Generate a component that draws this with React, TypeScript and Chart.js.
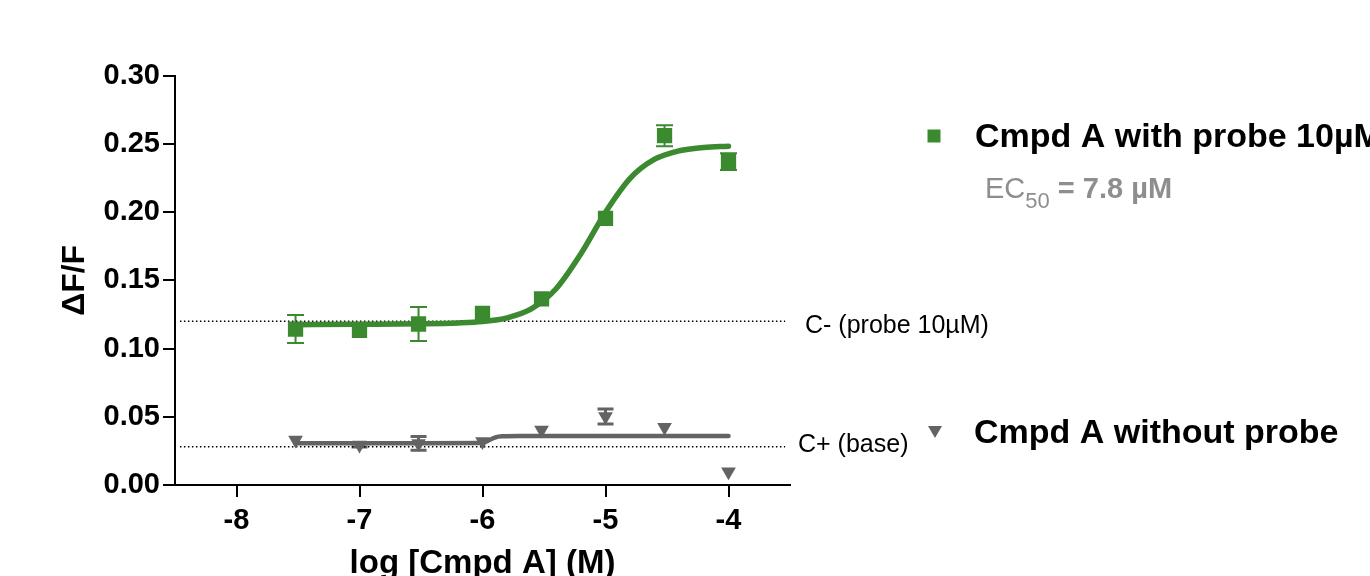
import React, { useEffect, useRef } from 'react';
import { Chart, registerables } from 'chart.js';

Chart.register(...registerables);

// ---- data ----
const logConc = [-7.52, -7, -6.52, -6, -5.52, -5, -4.52, -4];
const withProbe = [0.1143, 0.1133, 0.118, 0.1258, 0.1364, 0.1955, 0.256, 0.237];
const withProbeErr = [0.0103, 0, 0.0125, 0, 0, 0, 0.0077, 0.0062];
const withoutProbe = [0.033, 0.0293, 0.0305, 0.0318, 0.0403, 0.0502, 0.0423, 0.0098];
const withoutProbeErr = [0, 0.0015, 0.005, 0, 0, 0.0055, 0, 0];

// fitted curves
const fitWithX = [-7.52, -7.0, -6.5, -6.2, -6.0, -5.8, -5.6, -5.4, -5.2, -5.0, -4.8, -4.6, -4.4, -4.2, -4.0];
const fitWithY = [0.1175, 0.1178, 0.1182, 0.1188, 0.1198, 0.1225, 0.1292, 0.144, 0.1695, 0.2, 0.2248, 0.2388, 0.245, 0.2474, 0.2483];
const fitWithoutX = [-7.52, -6.5, -6.02, -5.96, -5.9, -5.84, -5.7, -5.0, -4.0];
const fitWithoutY = [0.0306, 0.0306, 0.0307, 0.0322, 0.0348, 0.0357, 0.0359, 0.0359, 0.0359];

// control reference levels
const controlNames = ['C- (probe 10\u00b5M)', 'C+ (base)'];
const controlLevels = [0.12, 0.028];
const controlXRange = [-8.46, -3.54];

const xTicks = [-8, -7, -6, -5, -4];
const yTicks = [0, 0.05, 0.1, 0.15, 0.2, 0.25, 0.3];
const seriesNames = ['Cmpd A with probe 10\u00b5M', 'Cmpd A without probe'];
const ec50Text = '7.8 \u00b5M';

const GREEN = '#3b8a2f';
const GRAY = '#636363';
const LIGHT_GRAY = '#8e8e8e';
const FONT = "'Liberation Sans', Arial, Helvetica, sans-serif";

const errorBarPlugin = {
  id: 'errorBars',
  beforeDatasetsDraw(chart: any) {
    const { ctx, scales } = chart;
    const x = scales.x;
    const y = scales.y;
    const draw = (ys: number[], errs: number[], color: string, lw: number, cap: number) => {
      ctx.save();
      ctx.strokeStyle = color;
      ctx.lineWidth = lw;
      logConc.forEach((lx, i) => {
        const e = errs[i];
        if (!e) return;
        const px = x.getPixelForValue(lx);
        const top = y.getPixelForValue(ys[i] + e);
        const bot = y.getPixelForValue(ys[i] - e);
        ctx.beginPath();
        ctx.moveTo(px, top);
        ctx.lineTo(px, bot);
        ctx.moveTo(px - cap / 2, top);
        ctx.lineTo(px + cap / 2, top);
        ctx.moveTo(px - cap / 2, bot);
        ctx.lineTo(px + cap / 2, bot);
        ctx.stroke();
      });
      ctx.restore();
    };
    draw(withProbe, withProbeErr, GREEN, 2, 17);
    draw(withoutProbe, withoutProbeErr, GRAY, 3, 16);
  },
};

const annotationPlugin = {
  id: 'annotations',
  afterDraw(chart: any) {
    const { ctx, scales, chartArea } = chart;
    const y = scales.y;
    ctx.save();
    ctx.textAlign = 'left';
    ctx.textBaseline = 'alphabetic';

    // control labels
    ctx.fillStyle = '#000';
    ctx.font = `25px ${FONT}`;
    ctx.fillText(controlNames[0], chartArea.right + 15, y.getPixelForValue(controlLevels[0]) + 12);
    ctx.fillText(controlNames[1], chartArea.right + 8, y.getPixelForValue(controlLevels[1]) + 5);

    // legend: green square series
    ctx.fillStyle = GREEN;
    ctx.fillRect(927.5, 129.5, 13, 13);
    ctx.fillStyle = '#000';
    ctx.font = `bold 34px ${FONT}`;
    ctx.fillText(seriesNames[0], 975, 147);

    // EC50
    ctx.fillStyle = LIGHT_GRAY;
    let cx = 985;
    ctx.font = `29px ${FONT}`;
    ctx.fillText('EC', cx, 198);
    cx += ctx.measureText('EC').width;
    ctx.font = `22px ${FONT}`;
    ctx.fillText('50', cx, 208);
    cx += ctx.measureText('50').width;
    ctx.font = `bold 29px ${FONT}`;
    ctx.fillText(' = ' + ec50Text, cx, 198);

    // legend: gray triangle series
    ctx.fillStyle = GRAY;
    ctx.beginPath();
    ctx.moveTo(928, 426);
    ctx.lineTo(942, 426);
    ctx.lineTo(935, 438);
    ctx.closePath();
    ctx.fill();
    ctx.fillStyle = '#000';
    ctx.font = `bold 34px ${FONT}`;
    ctx.fillText(seriesNames[1], 974, 443);

    ctx.restore();
  },
};

export default function App() {
  const ref = useRef<HTMLCanvasElement | null>(null);

  useEffect(() => {
    document.body.style.margin = '0';
    const canvas = ref.current;
    if (!canvas) return;

    const pts = (xs: number[], ys: number[]) => xs.map((v, i) => ({ x: v, y: ys[i] }));

    const chart = new Chart(canvas, {
      type: 'scatter',
      data: {
        datasets: [
          {
            label: seriesNames[0],
            data: pts(logConc, withProbe),
            pointStyle: 'rect',
            pointRadius: 10.8,
            pointBackgroundColor: GREEN,
            pointBorderWidth: 0,
            backgroundColor: GREEN,
            order: 0,
          } as any,
          {
            label: seriesNames[1],
            data: pts(logConc, withoutProbe),
            pointStyle: 'triangle',
            rotation: 180,
            pointRadius: 8.5,
            pointBackgroundColor: GRAY,
            pointBorderWidth: 0,
            backgroundColor: GRAY,
            order: 0,
          } as any,
          {
            label: 'fit with probe',
            data: pts(fitWithX, fitWithY),
            showLine: true,
            pointRadius: 0,
            borderColor: GREEN,
            borderWidth: 5.5,
            borderCapStyle: 'round',
            cubicInterpolationMode: 'monotone',
            fill: false,
            order: 1,
          } as any,
          {
            label: 'fit without probe',
            data: pts(fitWithoutX, fitWithoutY),
            showLine: true,
            pointRadius: 0,
            borderColor: GRAY,
            borderWidth: 4.5,
            borderCapStyle: 'round',
            cubicInterpolationMode: 'monotone',
            fill: false,
            order: 1,
          } as any,
          ...controlLevels.map((lvl, i) => ({
            label: controlNames[i],
            data: controlXRange.map((v) => ({ x: v, y: lvl })),
            showLine: true,
            pointRadius: 0,
            borderColor: '#000',
            borderWidth: 1.5,
            borderDash: [1.5, 2.5],
            fill: false,
            order: 2,
          })) as any,
        ],
      },
      options: {
        responsive: false,
        animation: false,
        devicePixelRatio: 1,
        events: [],
        layout: { padding: { left: 0, right: 580, top: 75.7, bottom: 0 } },
        plugins: {
          legend: { display: false },
          tooltip: { enabled: false },
        },
        scales: {
          x: {
            type: 'linear',
            min: -8.5,
            max: -3.5,
            afterFit: (s: any) => {
              s.height = 115;
            },
            afterBuildTicks: (s: any) => {
              s.ticks = xTicks.map((v) => ({ value: v }));
            },
            grid: {
              drawOnChartArea: false,
              drawTicks: true,
              tickLength: 12,
              color: '#000',
              lineWidth: 2,
            },
            border: { display: true, color: '#000', width: 2 },
            ticks: {
              color: '#000',
              padding: 7,
              font: { family: FONT, size: 29, weight: 'bold' },
              callback: (v: any) => String(v),
            },
            title: {
              display: true,
              text: 'log [Cmpd A] (M)',
              color: '#000',
              font: { family: FONT, size: 33, weight: 'bold' },
              padding: { top: 0, bottom: 16.6 },
            },
          },
          y: {
            type: 'linear',
            min: 0,
            max: 0.3,
            afterFit: (s: any) => {
              s.width = 175;
            },
            afterBuildTicks: (s: any) => {
              s.ticks = yTicks.map((v) => ({ value: v }));
            },
            grid: {
              drawOnChartArea: false,
              drawTicks: true,
              tickLength: 12,
              color: '#000',
              lineWidth: 2,
            },
            border: { display: true, color: '#000', width: 2 },
            ticks: {
              color: '#000',
              padding: 3,
              font: { family: FONT, size: 29, weight: 'bold' },
              callback: (v: any) => Number(v).toFixed(2),
            },
            title: {
              display: true,
              text: '\u0394F/F',
              color: '#000',
              font: { family: FONT, size: 32, weight: 'bold' },
              padding: { top: 55.8, bottom: 0 },
            },
          },
        },
      },
      plugins: [errorBarPlugin, annotationPlugin],
    });

    return () => chart.destroy();
  }, []);

  return (
    <div style={{ width: 1370, height: 576, overflow: 'hidden', background: '#fff' }}>
      <canvas ref={ref} width={1370} height={600} style={{ display: 'block', width: 1370, height: 600 }} />
    </div>
  );
}
